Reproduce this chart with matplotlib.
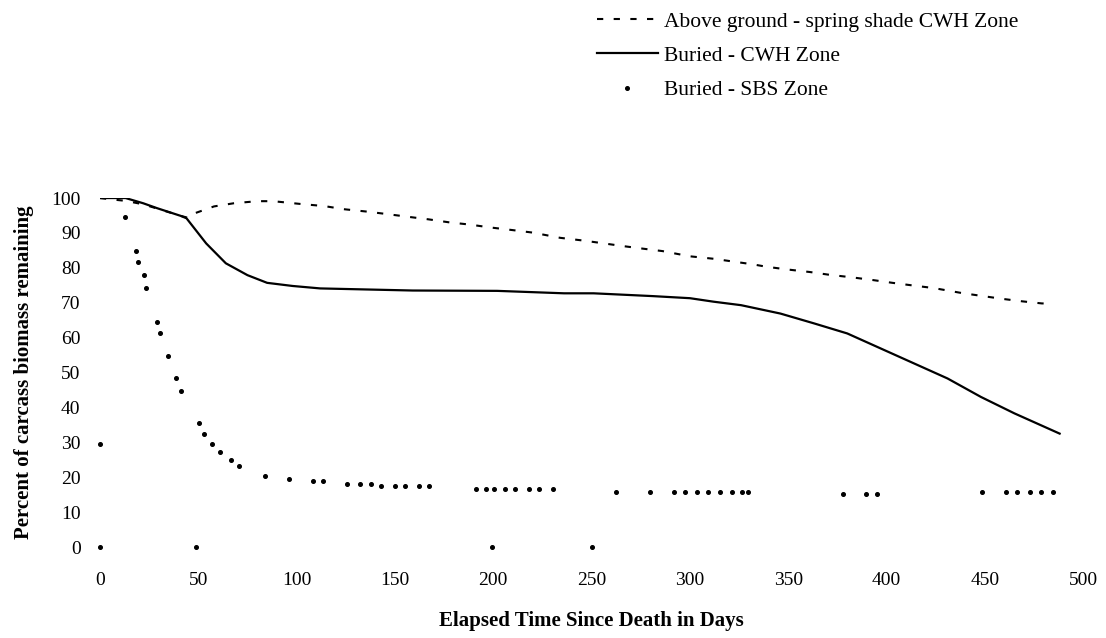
import matplotlib
matplotlib.use("Agg")
import matplotlib.pyplot as plt

plt.rcParams["font.family"] = ["Liberation Serif", "DejaVu Serif"]

# Above ground - spring shade CWH Zone (days, % remaining)
above_days = [0, 6, 13, 22, 29, 41, 45, 48, 58, 68, 80, 88, 102, 114, 124, 136,
              146, 157, 167, 178, 188, 198, 210, 220, 234, 246, 255, 265, 276,
              286, 300, 312, 322, 332, 339, 350, 361, 371, 382, 393, 403, 414,
              424, 438, 449, 459, 469, 479, 482]
above_vals = [100, 99.6, 99.2, 98.2, 97.0, 94.9, 94.3, 95.6, 97.6, 98.5, 99.1,
              99.1, 98.3, 97.7, 96.8, 96.1, 95.4, 94.6, 93.9, 93.0, 92.4, 91.6,
              90.8, 90.1, 88.6, 87.8, 87.1, 86.3, 85.5, 84.8, 83.3, 82.6, 81.8,
              81.0, 80.3, 79.5, 78.8, 78.0, 77.3, 76.5, 75.7, 74.9, 74.2, 72.8,
              71.9, 71.1, 70.4, 69.8, 69.8]

# Buried - CWH Zone
cwh_days = [0, 13, 22, 29, 41, 44, 54, 64, 75, 85, 98, 112, 159, 202, 236, 251,
            281, 300, 312, 326, 346, 363, 380, 397, 414, 431, 448, 465, 488]
cwh_vals = [100, 100, 98.5, 97.1, 94.9, 94.2, 87.0, 81.3, 77.9, 75.7, 74.8,
            74.1, 73.5, 73.4, 72.7, 72.7, 71.9, 71.3, 70.3, 69.3, 66.9, 64.1,
            61.2, 56.9, 52.6, 48.3, 43.0, 38.3, 32.5]

# Buried - SBS Zone (single points)
sbs_days = [0, 0, 12.7, 18.1, 19.5, 22.2, 23.6, 29.0, 30.4, 34.4, 38.5, 41.2,
            49, 50.4, 53.0, 57.1, 61.2, 66.6, 70.7, 83.9, 96.1, 108.3, 113.4,
            125.4, 132.2, 137.7, 143.1, 149.9, 155.3, 162.1, 167.2, 191.1,
            196.5, 199.6, 200.4, 205.8, 211.2, 218.0, 223.5, 230.3, 250.4,
            262.2, 279.7, 292.0, 297.5, 303.4, 309.3, 315.3, 321.2, 326.5,
            329.5, 377.6, 389.5, 394.9, 448.6, 460.5, 466.4, 472.7, 478.6,
            484.6]
sbs_vals = [0, 29.5, 94.6, 84.8, 81.8, 78.0, 74.2, 64.4, 61.3, 54.6, 48.4,
            44.6, 0, 35.4, 32.4, 29.4, 27.1, 24.9, 23.3, 20.3, 19.6, 18.8,
            18.8, 18.1, 18.1, 18.1, 17.4, 17.4, 17.4, 17.4, 17.4, 16.6, 16.6,
            0, 16.6, 16.6, 16.6, 16.6, 16.6, 16.6, 0, 15.9, 15.9, 15.9, 15.9,
            15.9, 15.9, 15.9, 15.9, 15.9, 15.9, 15.3, 15.3, 15.3, 15.9, 15.9,
            15.9, 15.9, 15.9, 15.9]

x_ticks = list(range(0, 501, 50))
y_ticks = list(range(0, 101, 10))

fig = plt.figure(figsize=(11.06, 6.38), dpi=100)
fig.patch.set_facecolor("white")
ax = fig.add_axes([0.0904, 0.1426, 0.889, 0.547])

ax.plot(above_days, above_vals, color="black", linewidth=1.5,
        linestyle=(0, (3, 5)), label="Above ground - spring shade CWH Zone")
ax.plot(cwh_days, cwh_vals, color="black", linewidth=1.6,
        label="Buried - CWH Zone")
ax.plot(sbs_days, sbs_vals, color="black", linestyle="none", marker="o",
        markersize=2.6, clip_on=False, label="Buried - SBS Zone")

ax.set_xlim(0, 500)
ax.set_ylim(0, 100)
ax.set_xticks(x_ticks)
ax.set_yticks(y_ticks)
ax.tick_params(length=0, labelsize=14)
ax.tick_params(axis="x", pad=18)
ax.tick_params(axis="y", pad=14)
for spine in ax.spines.values():
    spine.set_visible(False)

ax.set_xlabel("Elapsed Time Since Death in Days", fontsize=15,
              fontweight="bold", labelpad=16)
ax.set_ylabel("Percent of carcass biomass remaining", fontsize=15,
              fontweight="bold", labelpad=12)

# legend sits in the top right, above the plot area
fig.legend(loc="upper left", bbox_to_anchor=(0.54, 0.982), frameon=False,
           fontsize=15.5, handlelength=2.8, handletextpad=0.3,
           labelspacing=0.66, borderpad=0, borderaxespad=0, numpoints=1)

fig.savefig("out.png", dpi=100, facecolor="white")
